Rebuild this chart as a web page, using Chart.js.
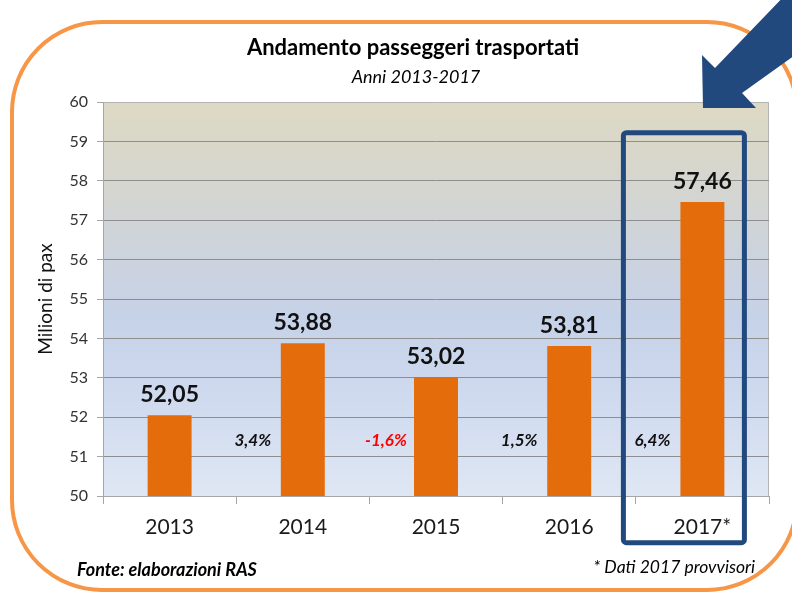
<!DOCTYPE html>
<html>
<head>
<meta charset="utf-8">
<script src="https://cdn.jsdelivr.net/npm/chart.js@4/dist/chart.umd.min.js"></script>
<style>
  html, body { margin: 0; padding: 0; background: #fff; }
  canvas { display: block; }
</style>
</head>
<body>
<canvas id="chart" width="792" height="593"></canvas>
<script>
// ===== DATA =====
const years = ['2013', '2014', '2015', '2016', '2017*'];
const passengers = [52.05, 53.88, 53.02, 53.81, 57.46];
const valueLabels = ['52,05', '53,88', '53,02', '53,81', '57,46'];
const growthLabels = ['', '3,4%', '-1,6%', '1,5%', '6,4%'];
const yTicks = [50, 51, 52, 53, 54, 55, 56, 57, 58, 59, 60];

const FONT = 'Lato, "Open Sans", sans-serif';
const ORANGE = '#E46C0A';
const NAVY = '#22497E';
const GROWTH_Y = 51.42;

// Frame, title and plot background
const backdrop = {
  id: 'backdrop',
  beforeDraw(chart) {
    const { ctx, chartArea: a } = chart;
    ctx.save();
    ctx.fillStyle = '#fff';
    ctx.fillRect(0, 0, chart.width, chart.height);

    ctx.strokeStyle = '#F79646';
    ctx.lineWidth = 4;
    ctx.beginPath();
    ctx.roundRect(12, 22, 785, 568, 90);
    ctx.stroke();

    const g = ctx.createLinearGradient(0, a.top, 0, a.bottom);
    g.addColorStop(0, '#DDD9C3');
    g.addColorStop(0.2, '#D6D6CF');
    g.addColorStop(0.4, '#CCD3DE');
    g.addColorStop(0.55, '#C6D2E8');
    g.addColorStop(0.75, '#CFDAEF');
    g.addColorStop(1, '#DFE7F4');
    ctx.fillStyle = g;
    ctx.fillRect(a.left, a.top, a.right - a.left, a.bottom - a.top);

    ctx.strokeStyle = '#B4B4B4';
    ctx.lineWidth = 1;
    ctx.beginPath();
    ctx.moveTo(a.left, a.top + 0.5);
    ctx.lineTo(a.right - 0.5, a.top + 0.5);
    ctx.lineTo(a.right - 0.5, a.bottom);
    ctx.stroke();

    ctx.fillStyle = '#000';
    ctx.textAlign = 'center';
    ctx.textBaseline = 'alphabetic';
    ctx.font = `bold 22px ${FONT}`;
    ctx.fillText('Andamento passeggeri trasportati', 413, 55);
    ctx.font = `italic 18px ${FONT}`;
    ctx.fillText('Anni 2013-2017', 416, 83);

    ctx.font = `bold italic 18px ${FONT}`;
    ctx.textAlign = 'left';
    ctx.fillText('Fonte: elaborazioni RAS', 77, 576);
    ctx.font = `italic 17.5px ${FONT}`;
    ctx.textAlign = 'right';
    ctx.fillText('* Dati 2017 provvisori', 755, 573);
    ctx.restore();
  }
};

// Value labels, growth labels, highlight box and arrow
const overlay = {
  id: 'overlay',
  afterDatasetsDraw(chart) {
    const { ctx, scales: { x, y } } = chart;
    const bars = chart.getDatasetMeta(0).data;
    ctx.save();
    ctx.textAlign = 'center';
    ctx.fillStyle = '#111';
    ctx.font = `bold 23px ${FONT}`;
    ctx.textBaseline = 'alphabetic';
    bars.forEach((b, i) => ctx.fillText(valueLabels[i], b.x, b.y - 13));

    ctx.font = `bold italic 17px ${FONT}`;
    ctx.textBaseline = 'middle';
    growthLabels.forEach((t, i) => {
      if (!t) return;
      ctx.fillStyle = t.startsWith('-') ? '#FF0000' : '#111';
      ctx.fillText(t, x.getPixelForValue(i) - 50, y.getPixelForValue(GROWTH_Y));
    });
    ctx.restore();
  },
  afterDraw(chart) {
    const { ctx, scales: { x, y } } = chart;
    ctx.save();
    const cx = x.getPixelForValue(years.length - 1);
    ctx.strokeStyle = NAVY;
    ctx.lineWidth = 5;
    ctx.beginPath();
    ctx.roundRect(cx - 79, y.getPixelForValue(59.22), 121, 410, 3);
    ctx.stroke();

    ctx.fillStyle = NAVY;
    ctx.beginPath();
    [[703, 108], [702, 55], [715, 68], [790, -10], [830, 30], [742, 93], [756, 108]]
      .forEach(([px, py], i) => i ? ctx.lineTo(px, py) : ctx.moveTo(px, py));
    ctx.closePath();
    ctx.fill();
    ctx.restore();
  }
};

new Chart(document.getElementById('chart'), {
  type: 'bar',
  data: {
    labels: years,
    datasets: [{
      data: passengers,
      backgroundColor: ORANGE,
      borderWidth: 0,
      categoryPercentage: 1,
      barPercentage: 0.33
    }]
  },
  options: {
    responsive: false,
    animation: false,
    devicePixelRatio: 1,
    layout: { padding: { top: 102, right: 23, left: 0, bottom: 0 } },
    plugins: { legend: { display: false }, tooltip: { enabled: false } },
    scales: {
      x: {
        afterFit: s => { s.height = 97; },
        grid: { offset: true, drawOnChartArea: false, tickLength: 8, color: '#A6A6A6' },
        border: { color: '#A6A6A6' },
        ticks: { color: '#1a1a1a', padding: 11, font: { family: FONT, size: 21 } }
      },
      y: {
        min: 50, max: 60,
        afterFit: s => { s.width = 103; },
        afterBuildTicks: s => { s.ticks = yTicks.map(v => ({ value: v })); },
        grid: {
          tickLength: 6,
          color: c => c.tick && c.tick.value === 60 ? 'rgba(0,0,0,0)' : '#8E8E8E',
          tickColor: '#A6A6A6'
        },
        border: { color: '#A6A6A6' },
        ticks: { color: '#333', padding: 9, font: { family: FONT, size: 16 } },
        title: {
          display: true, text: 'Milioni di pax', color: '#111',
          padding: { top: 34 }, font: { family: FONT, size: 19 }
        }
      }
    }
  },
  plugins: [backdrop, overlay]
});
</script>
</body>
</html>
